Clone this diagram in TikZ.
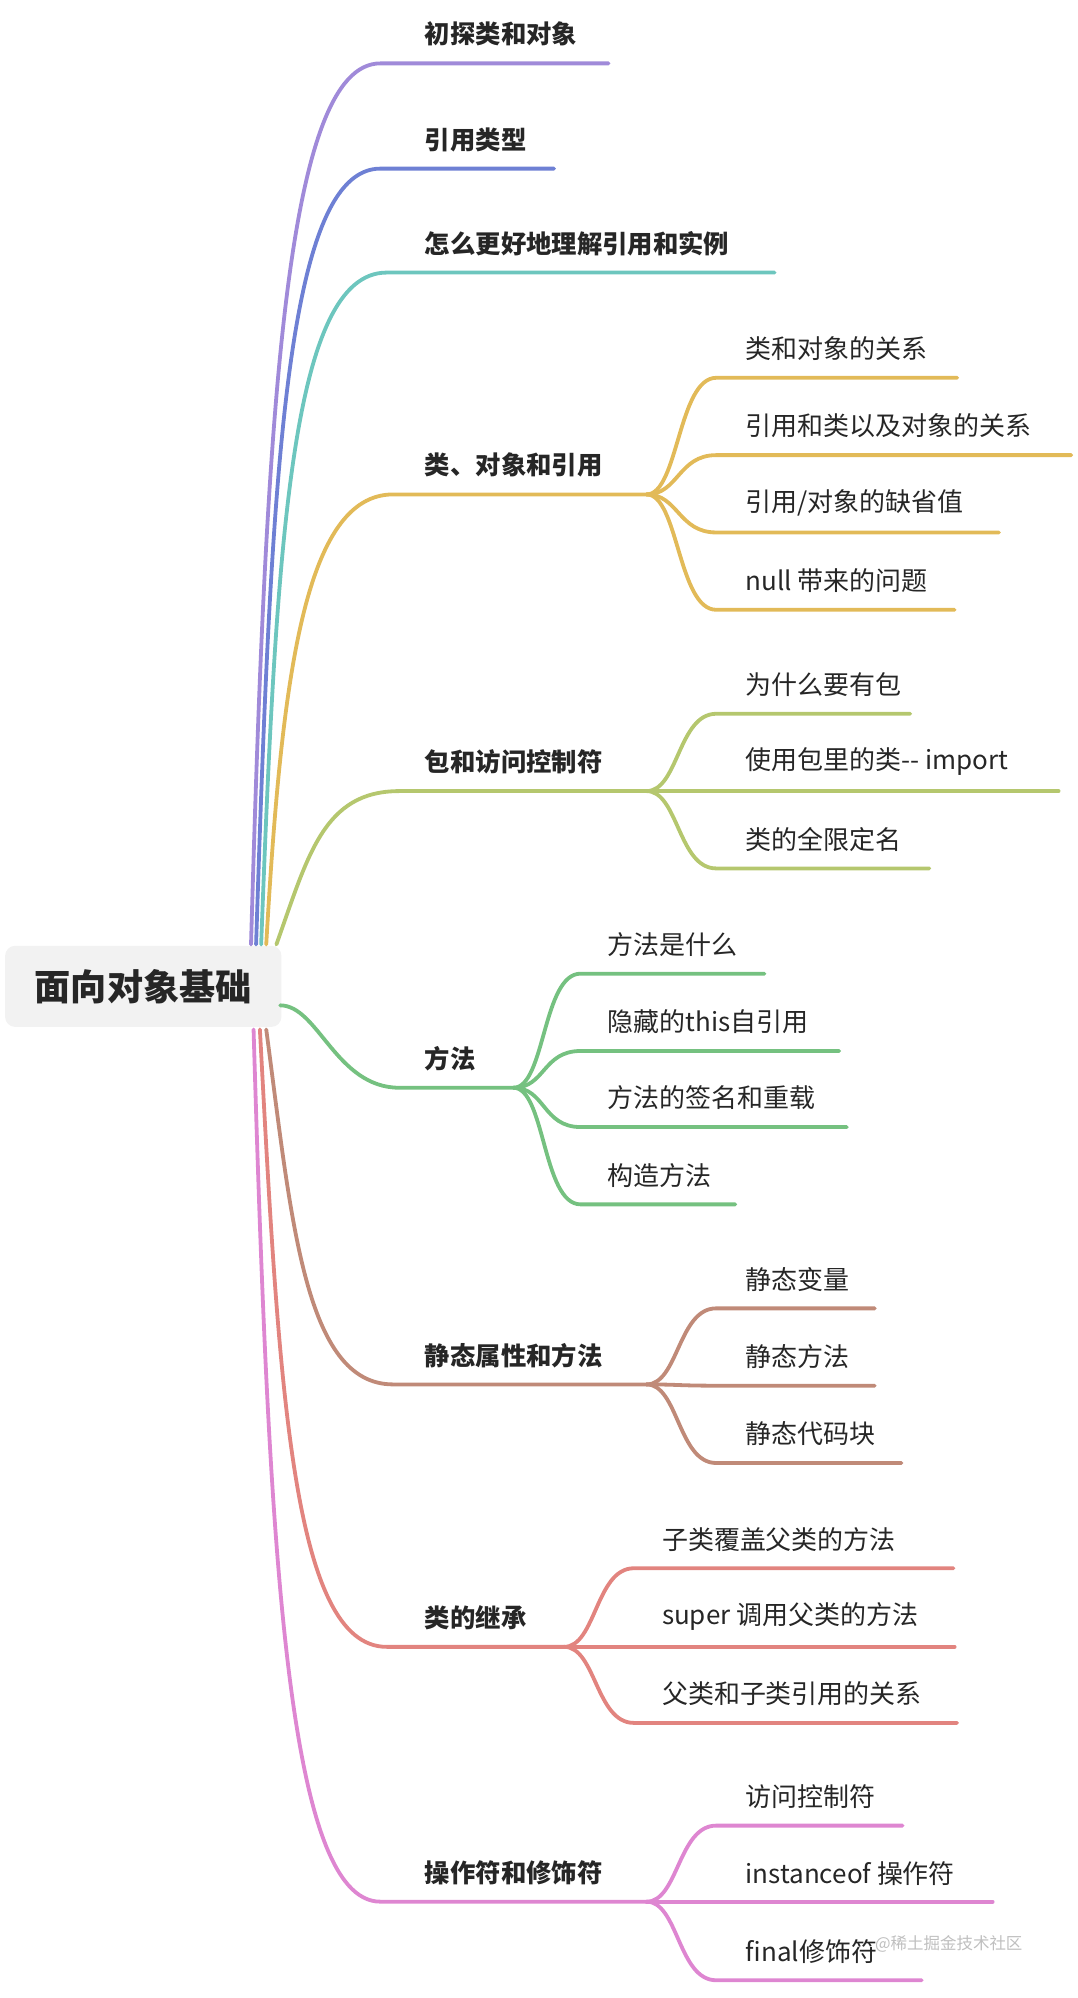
\documentclass[tikz,border=0pt]{standalone}
\usepackage{fontspec}
\setmainfont{Noto Sans CJK SC}
\definecolor{cpurple}{HTML}{A08AD9}
\definecolor{cblue}{HTML}{6E80D4}
\definecolor{cteal}{HTML}{6DC6BE}
\definecolor{cgold}{HTML}{E2BA58}
\definecolor{colive}{HTML}{B5C76E}
\definecolor{cgreen}{HTML}{75C180}
\definecolor{cbrown}{HTML}{C08A78}
\definecolor{csalmon}{HTML}{E2847F}
\definecolor{cpink}{HTML}{DE86D1}
\tikzset{
    lvlone/.style={font=\bfseries\fontsize{20}{20}\selectfont, anchor=west, inner sep=0pt, text=black!85},
    leaf/.style={font=\fontsize{20.5}{20.5}\selectfont, anchor=west, inner sep=0pt, text=black!85},
    edge/.style={line width=3pt, line cap=round},
    kid/.style={edge, to path={.. controls +(25,0) and +(-30,0) .. (\tikztotarget) \tikztonodes}}
}
\begin{document}
\begin{tikzpicture}[x=1pt, y=-1pt]
    \useasboundingbox (0,0) rectangle (850,1576);
    % root
    \node[fill=black!5, rounded corners=8pt, minimum width=218pt, minimum height=64pt,
          font=\bfseries\fontsize{28.5}{28.5}\selectfont, text=black!85] (root) at (113,778) {面向对象基础};
    % start points on the root
    \coordinate (r1) at (198,745); \coordinate (r2) at (202,745);
    \coordinate (r3) at (206,745); \coordinate (r4) at (210,745);
    \coordinate (r5) at (218,745); \coordinate (r6) at (221,793);
    \coordinate (r7) at (210,812); \coordinate (r8) at (205,812);
    \coordinate (r9) at (200,812);

    % first level
    \node[lvlone] (n1) at (335,27) {初探类和对象};
    \coordinate (s1) at (300,50); \coordinate (e1) at (480,50);
    \draw[edge,cpurple] (r1) .. controls +(12,-420) and +(-75,0) .. (s1) -- (e1);

    \node[lvlone] (n2) at (335,110) {引用类型};
    \coordinate (s2) at (300,133); \coordinate (e2) at (437,133);
    \draw[edge,cblue] (r2) .. controls +(12,-370) and +(-75,0) .. (s2) -- (e2);

    \node[lvlone] (n3) at (335,192) {怎么更好地理解引用和实例};
    \coordinate (s3) at (305,215); \coordinate (e3) at (611,215);
    \draw[edge,cteal] (r3) .. controls +(12,-320) and +(-75,0) .. (s3) -- (e3);

    \node[lvlone] (n4) at (335,367) {类、对象和引用};
    \coordinate (s4) at (310,390); \coordinate (j4) at (510,390);
    \draw[edge,cgold] (r4) .. controls +(12,-210) and +(-70,0) .. (s4) -- (j4);
    \node[leaf] (n41) at (588,275) {类和对象的关系};
    \node[leaf] (n42) at (588,336) {引用和类以及对象的关系};
    \node[leaf] (n43) at (588,397) {引用/对象的缺省值};
    \node[leaf] (n44) at (588,458) {null 带来的问题};
    \draw[kid,cgold] (j4) to (565,298) -- (755,298);
    \draw[kid,cgold] (j4) to (565,359) -- (845,359);
    \draw[kid,cgold] (j4) to (565,420) -- (788,420);
    \draw[kid,cgold] (j4) to (565,481) -- (753,481);

    \node[lvlone] (n5) at (335,601) {包和访问控制符};
    \coordinate (s5) at (315,624); \coordinate (j5) at (510,624);
    \draw[edge,colive] (r5) .. controls +(25,-70) and +(-60,0) .. (s5) -- (j5);
    \node[leaf] (n51) at (588,540) {为什么要有包};
    \node[leaf] (n52) at (588,601) {使用包里的类-{}- import};
    \node[leaf] (n53) at (588,662) {类的全限定名};
    \draw[kid,colive] (j5) to (565,563) -- (718,563);
    \draw[edge,colive] (j5) -- (835,624);
    \draw[kid,colive] (j5) to (565,685) -- (733,685);

    \node[lvlone] (n6) at (335,835) {方法};
    \coordinate (s6) at (315,858); \coordinate (j6) at (405,858);
    \draw[edge,cgreen] (r6) .. controls +(30,0) and +(-50,0) .. (s6) -- (j6);
    \node[leaf] (n61) at (479,745) {方法是什么};
    \node[leaf] (n62) at (479,806) {隐藏的this自引用};
    \node[leaf] (n63) at (479,866) {方法的签名和重载};
    \node[leaf] (n64) at (479,927) {构造方法};
    \draw[kid,cgreen] (j6) to (458,768) -- (603,768);
    \draw[kid,cgreen] (j6) to (458,829) -- (662,829);
    \draw[kid,cgreen] (j6) to (458,889) -- (668,889);
    \draw[kid,cgreen] (j6) to (458,950) -- (580,950);

    \node[lvlone] (n7) at (335,1069) {静态属性和方法};
    \coordinate (s7) at (310,1092); \coordinate (j7) at (510,1092);
    \draw[edge,cbrown] (r7) .. controls +(20,150) and +(-70,0) .. (s7) -- (j7);
    \node[leaf] (n71) at (588,1009) {静态变量};
    \node[leaf] (n72) at (588,1070) {静态方法};
    \node[leaf] (n73) at (588,1131) {静态代码块};
    \draw[kid,cbrown] (j7) to (565,1032) -- (690,1032);
    \draw[kid,cbrown] (j7) to (565,1093) -- (690,1093);
    \draw[kid,cbrown] (j7) to (565,1154) -- (711,1154);

    \node[lvlone] (n8) at (335,1276) {类的继承};
    \coordinate (s8) at (305,1299); \coordinate (j8) at (445,1299);
    \draw[edge,csalmon] (r8) .. controls +(15,280) and +(-75,0) .. (s8) -- (j8);
    \node[leaf] (n81) at (522,1214) {子类覆盖父类的方法};
    \node[leaf] (n82) at (522,1275) {super 调用父类的方法};
    \node[leaf] (n83) at (522,1336) {父类和子类引用的关系};
    \draw[kid,csalmon] (j8) to (500,1237) -- (752,1237);
    \draw[edge,csalmon] (j8) -- (753,1299);
    \draw[kid,csalmon] (j8) to (500,1359) -- (755,1359);

    \node[lvlone] (n9) at (335,1477) {操作符和修饰符};
    \coordinate (s9) at (300,1500); \coordinate (j9) at (510,1500);
    \draw[edge,cpink] (r9) .. controls +(12,400) and +(-75,0) .. (s9) -- (j9);
    \node[leaf] (n91) at (588,1417) {访问控制符};
    \node[leaf] (n92) at (588,1478) {instanceof 操作符};
    \node[leaf] (n93) at (588,1539) {final修饰符};
    \draw[kid,cpink] (j9) to (565,1440) -- (712,1440);
    \draw[edge,cpink] (j9) -- (783,1500);
    \draw[kid,cpink] (j9) to (565,1562) -- (727,1562);

    % watermark
    \node[anchor=west, inner sep=0pt, text=black!25, font=\fontsize{13}{13}\selectfont] (wm) at (690,1533) {@稀土掘金技术社区};
\end{tikzpicture}
\end{document}
